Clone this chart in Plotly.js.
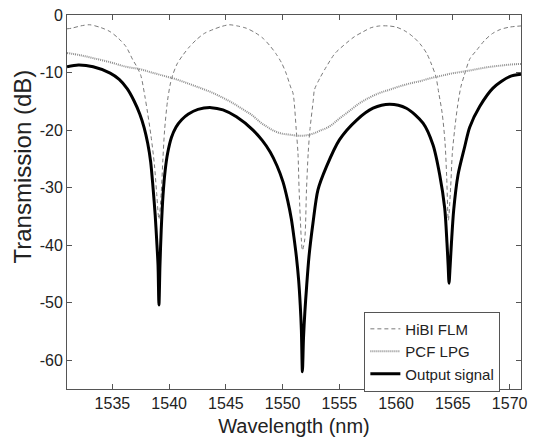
<!DOCTYPE html>
<html>
<head>
<meta charset="utf-8">
<script src="https://cdn.plot.ly/plotly-3.0.1.min.js"></script>
<style>html,body{margin:0;padding:0;background:#fff}#chart{width:534px;height:439px}</style>
</head>
<body>
<div id="chart"></div>
<script>
// HiBI FLM (dashed)
const flmWl = [1531.0,1531.4,1532.2,1533.0,1534.0,1534.8,1535.5,1536.2,1536.8,1537.1,1537.5,1537.85,1538.1,1538.4,1538.7,1538.9,1539.1,1539.3,1539.45,1539.6,1539.85,1540.1,1540.3,1540.7,1541.2,1541.8,1542.4,1543.1,1543.9,1544.6,1545.3,1546.0,1546.8,1547.6,1548.3,1548.9,1549.4,1549.9,1550.3,1550.7,1550.9,1551.0,1551.2,1551.35,1551.45,1551.65,1551.74,1551.94,1552.1,1552.25,1552.4,1552.7,1552.8,1553.3,1553.85,1554.6,1555.6,1556.3,1557.1,1557.8,1558.55,1559.3,1560.0,1560.8,1561.5,1562.1,1562.7,1563.1,1563.5,1563.75,1564.05,1564.3,1564.45,1564.6,1564.8,1564.95,1565.15,1565.4,1565.7,1566.0,1566.5,1567.1,1567.8,1568.5,1569.2,1570.0,1571.0];
const flmDb = [-2.4,-2.3,-1.9,-1.7,-2.2,-2.9,-4.0,-5.5,-7.8,-8.8,-10.5,-14.0,-17.0,-21.0,-26.0,-31.0,-35.5,-31.0,-25.0,-20.0,-15.0,-12.0,-10.5,-8.5,-7.0,-5.5,-4.3,-3.2,-2.5,-2.0,-1.7,-1.9,-2.3,-3.1,-4.1,-5.4,-6.7,-8.3,-10.1,-12.5,-13.5,-14.8,-20.0,-24.0,-30.4,-39.1,-40.9,-39.1,-30.4,-24.0,-20.0,-14.8,-13.0,-10.9,-9.0,-6.7,-4.9,-3.8,-2.9,-2.2,-1.9,-1.9,-2.1,-2.8,-3.8,-5.0,-6.7,-8.5,-10.7,-13.5,-17.0,-22.0,-28.0,-35.7,-30.0,-24.0,-20.0,-16.0,-12.5,-10.5,-7.6,-6.1,-4.4,-3.2,-2.5,-2.1,-1.9];

// PCF LPG (dotted)
const lpgWl = [1531.0,1532.2,1533.3,1534.8,1536.2,1537.4,1538.3,1539.2,1540.5,1541.8,1542.9,1543.8,1544.75,1545.6,1546.5,1547.3,1548.0,1548.6,1549.2,1549.9,1550.6,1551.5,1552.1,1552.7,1553.3,1554.1,1555.0,1555.8,1556.8,1557.7,1558.6,1559.4,1560.3,1561.2,1562.1,1563.0,1563.9,1564.8,1565.7,1566.6,1567.4,1568.3,1569.2,1570.1,1571.0];
const lpgDb = [-6.6,-7.0,-7.5,-8.2,-9.0,-9.4,-9.9,-10.4,-11.1,-12.0,-12.8,-13.5,-14.4,-15.3,-16.4,-17.4,-18.6,-19.4,-20.1,-20.6,-20.8,-21.0,-20.9,-20.6,-20.1,-19.4,-18.0,-16.8,-15.3,-14.3,-13.5,-13.0,-12.4,-11.9,-11.5,-11.0,-10.6,-10.2,-9.9,-9.6,-9.3,-9.0,-8.8,-8.6,-8.5];

// Output signal (solid)
const outWl = [1531.0,1532.0,1533.3,1534.8,1535.6,1536.3,1536.9,1537.41,1537.8,1538.11,1538.37,1538.58,1538.77,1538.90,1539.02,1539.1,1539.19,1539.30,1539.46,1539.65,1539.87,1540.2,1540.6,1541.1,1541.7,1542.54,1543.72,1544.74,1545.93,1547.39,1548.2,1548.9,1549.5,1550.03,1550.45,1550.77,1551.02,1551.21,1551.41,1551.55,1551.65,1551.74,1551.84,1551.96,1552.09,1552.32,1552.67,1553.11,1553.85,1555.0,1556.5,1557.96,1559.43,1560.9,1562.37,1563.25,1563.84,1564.28,1564.48,1564.58,1564.66,1564.76,1564.87,1565.07,1565.45,1566.04,1566.48,1567.36,1568.53,1570.0,1571.0];
const outDb = [-9.0,-8.7,-9.0,-10.1,-11.2,-12.8,-14.9,-17.2,-19.6,-22.3,-25.5,-30.0,-34.8,-39.1,-43.5,-50.4,-43.5,-37.4,-31.3,-27.0,-24.0,-21.3,-19.5,-18.2,-17.2,-16.4,-16.1,-16.5,-17.7,-20.0,-21.8,-23.8,-26.2,-29.0,-32.3,-35.5,-39.0,-42.0,-46.1,-50.4,-54.8,-62.0,-56.0,-51.5,-47.8,-42.0,-36.2,-30.4,-26.4,-21.7,-18.3,-16.2,-15.5,-16.2,-18.8,-22.6,-27.8,-33.6,-39.7,-43.5,-46.6,-43.5,-39.7,-33.9,-27.8,-22.9,-19.5,-15.9,-12.7,-10.7,-10.3];

const seriesNames = ['HiBI FLM','PCF LPG','Output signal'];
const xTicks = [1535,1540,1545,1550,1555,1560,1565,1570];
const yTicks = [0,-10,-20,-30,-40,-50,-60];

const FONT = 'Liberation Sans, Arial, sans-serif';
const traces = [
  {x: flmWl, y: flmDb, name: seriesNames[0], mode: 'lines', type: 'scatter',
   line: {color: '#7a7a7a', width: 1, dash: '4px,3px', shape: 'spline', smoothing: 0.8}},
  {x: lpgWl, y: lpgDb, name: seriesNames[1], mode: 'lines', type: 'scatter',
   line: {color: '#8f8f8f', width: 2, dash: '1px,1px', shape: 'spline', smoothing: 1}},
  {x: outWl, y: outDb, name: seriesNames[2], mode: 'lines', type: 'scatter',
   line: {color: '#000', width: 3, shape: 'spline', smoothing: 0.8}}
];
const axisCommon = {
  showgrid: false, zeroline: false, showline: true, linecolor: '#555', linewidth: 1,
  mirror: 'ticks', ticks: 'inside', ticklen: 5, tickcolor: '#555',
  tickfont: {family: FONT, size: 16, color: '#222'}
};
const layout = {
  width: 534, height: 439,
  margin: {l: 67, r: 13, t: 15, b: 50},
  paper_bgcolor: '#fff', plot_bgcolor: '#fff',
  showlegend: true,
  xaxis: Object.assign({}, axisCommon, {
    range: [1531, 1571], tickvals: xTicks, ticktext: xTicks.map(String),
    title: {text: 'Wavelength (nm)', font: {family: FONT, size: 20, color: '#222'}, standoff: 7}
  }),
  yaxis: Object.assign({}, axisCommon, {
    range: [-65, 0], tickvals: yTicks, ticktext: yTicks.map(String),
    title: {text: ''}
  }),
  annotations: [{
    text: 'Transmission (dB)', xref: 'paper', yref: 'paper',
    x: -0.099, y: 0.595, xanchor: 'center', yanchor: 'middle', textangle: -90,
    showarrow: false, font: {family: FONT, size: 24, color: '#222'}
  }],
  legend: {
    x: 0.655, y: 0.207, xanchor: 'left', yanchor: 'top',
    bgcolor: '#fff', bordercolor: '#555', borderwidth: 1,
    font: {family: FONT, size: 15, color: '#222'},
    itemwidth: 30, tracegroupgap: 0
  }
};
Plotly.newPlot('chart', traces, layout, {staticPlot: true, displayModeBar: false});
</script>
</body>
</html>
